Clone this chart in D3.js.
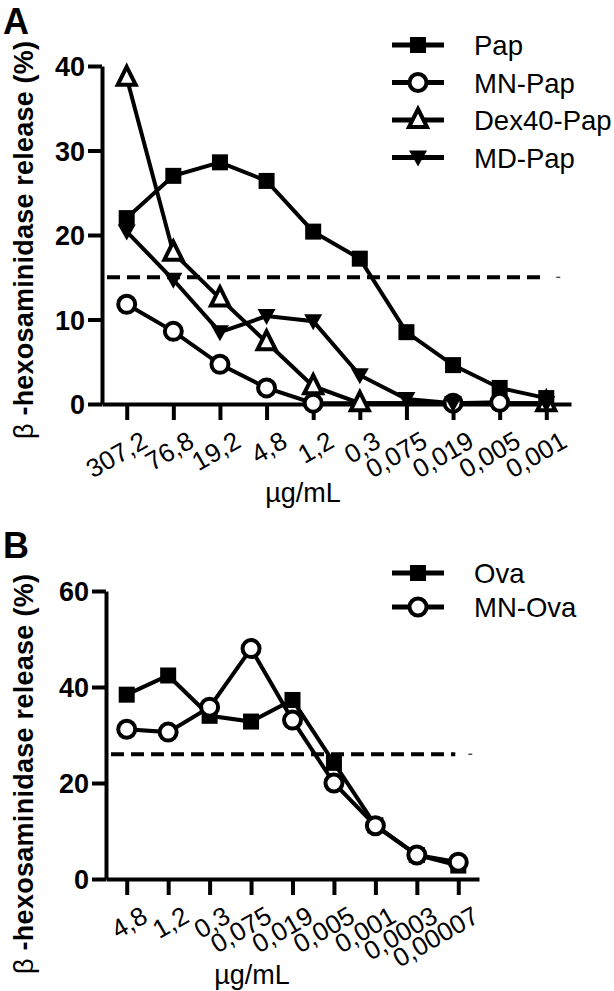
<!DOCTYPE html>
<html>
<head>
<meta charset="utf-8">
<script src="https://cdn.jsdelivr.net/npm/d3@7"></script>
<style>
  body { margin: 0; background: #fff; }
  svg { font-family: Arial, "Liberation Sans", sans-serif; }
</style>
</head>
<body>
<svg width="614" height="991"></svg>
<script>
const svg = d3.select('svg');

// panel A data (null = point not shown)
const concA = ['307,2', '76,8', '19,2', '4,8', '1,2', '0,3', '0,075', '0,019', '0,005', '0,001'];
const pap = [22.0, 27.0, 28.6, 26.4, 20.4, 17.2, 8.5, 4.6, 1.9, 0.7];
const mnPap = [11.8, 8.6, 4.7, 1.9, 0.1, null, null, 0.1, 0.2, null];
const dex40Pap = [38.6, 17.9, 12.5, 7.3, 2.1, 0.1, null, null, null, 0.1];
const mdPap = [20.4, 14.7, 8.5, 10.4, 9.8, 3.4, 0.6, 0.1, null, 0.1];
const ticksA = [0, 10, 20, 30, 40];
const thresholdA = 15;

// panel B data
const concB = ['4,8', '1,2', '0,3', '0,075', '0,019', '0,005', '0,001', '0,0003', '0,00007'];
const ova = [38.4, 42.4, 34.0, 32.8, 37.3, 24.2, 11.2, 5.0, 2.8];
const mnOva = [31.2, 30.6, 35.8, 48.0, 33.1, 20.0, 11.1, 5.0, 3.5];
const ticksB = [0, 20, 40, 60];
const thresholdB = 26;

const LW = 4;
const FONT = 'Arial, "Liberation Sans", sans-serif';

function marker(g, type, cx, cy) {
    if (type === 'square') {
        g.append('rect').attr('x', cx - 8).attr('y', cy - 8).attr('width', 16).attr('height', 16)
            .attr('fill', '#000');
    } else if (type === 'circle') {
        g.append('circle').attr('cx', cx).attr('cy', cy).attr('r', 8.5)
            .attr('fill', '#fff').attr('stroke', '#000').attr('stroke-width', 4);
    } else if (type === 'up') {
        g.append('path').attr('d', `M${cx},${cy - 11}L${cx + 9},${cy + 7}L${cx - 9},${cy + 7}Z`)
            .attr('fill', '#fff').attr('stroke', '#000').attr('stroke-width', 4);
    } else if (type === 'down') {
        g.append('path').attr('d', `M${cx - 9},${cy - 7}L${cx + 9},${cy - 7}L${cx},${cy + 9}Z`)
            .attr('fill', '#000');
    }
}

function panel(opt) {
    const g = svg.append('g');
    const x = d3.scalePoint().domain(opt.cats).range(opt.xRange).padding(opt.pad);
    const y = d3.scaleLinear().domain([0, opt.ymax]).range(opt.yRange);
    const lastX = x(opt.cats[opt.cats.length - 1]);

    // threshold dashed line
    g.append('line')
        .attr('x1', opt.xRange[0] + 5).attr('x2', lastX - 3)
        .attr('y1', y(opt.threshold)).attr('y2', y(opt.threshold))
        .attr('stroke', '#000').attr('stroke-width', 4).attr('stroke-dasharray', '13,7');
    g.append('line')
        .attr('x1', lastX + 10).attr('x2', lastX + 14)
        .attr('y1', y(opt.threshold)).attr('y2', y(opt.threshold))
        .attr('stroke', '#000').attr('stroke-width', 1);

    // axes
    const yAxis = g.append('g')
        .attr('transform', `translate(${opt.xRange[0]},0)`)
        .call(d3.axisLeft(y).tickValues(opt.yticks).tickSize(14).tickSizeOuter(0).tickPadding(3));
    yAxis.selectAll('path, line').attr('stroke', '#000').attr('stroke-width', 4);
    yAxis.selectAll('text').attr('font-size', 27).attr('font-weight', 'bold').attr('fill', '#000')
        .attr('font-family', FONT).attr('dy', '0.36em');

    const xAxis = g.append('g')
        .attr('transform', `translate(0,${opt.yRange[0]})`)
        .call(d3.axisBottom(x).tickSize(16).tickSizeOuter(0));
    xAxis.selectAll('path, line').attr('stroke', '#000').attr('stroke-width', 4);
    xAxis.selectAll('text')
        .attr('font-size', 26).attr('fill', '#000')
        .attr('font-family', FONT)
        .attr('text-anchor', 'end')
        .attr('dy', 0)
        .attr('transform', 'translate(15,30) rotate(-30)')
        .attr('y', 14).attr('x', 0);

    // x title
    g.append('text').attr('x', opt.xTitleX).attr('y', opt.xTitleY)
        .attr('text-anchor', 'middle').attr('font-size', 27).text('µg/mL');

    // y title
    const yt = g.append('text')
        .attr('transform', `translate(${opt.yTitleX},${opt.yTitleC}) rotate(-90)`)
        .attr('text-anchor', 'middle').attr('font-size', 27)
        .attr('textLength', opt.yTitleLen).attr('lengthAdjust', 'spacing');
    yt.append('tspan').text('β ');
    yt.append('tspan').attr('font-weight', 'bold').text('-hexosaminidase release (%)');

    // panel letter
    g.append('text').attr('x', 3).attr('y', opt.letterY)
        .attr('font-size', 36).attr('font-weight', 'bold').text(opt.letter);

    // series
    const line = d3.line()
        .defined(d => d.v !== null)
        .x(d => x(d.c)).y(d => y(d.v));
    opt.series.forEach(s => {
        const pts = s.values.map((v, i) => ({ c: opt.cats[i], v: v })).filter(d => d.v !== null);
        g.append('path').attr('d', line(pts))
            .attr('fill', 'none').attr('stroke', '#000').attr('stroke-width', LW);
    });
    opt.series.forEach(s => {
        const mg = g.append('g');
        s.values.forEach((v, i) => {
            if (v !== null) marker(mg, s.shape, x(opt.cats[i]), y(v));
        });
    });

    // legend
    opt.series.forEach((s, i) => {
        const ly = opt.legendY + i * opt.legendStep;
        const lg = g.append('g');
        lg.append('line').attr('x1', 392).attr('x2', 444).attr('y1', ly).attr('y2', ly)
            .attr('stroke', '#000').attr('stroke-width', 5);
        marker(lg, s.shape, 418, ly);
        lg.append('text').attr('x', 474).attr('y', ly + 10).attr('font-size', 27.5).text(s.name);
    });
}

panel({
    letter: 'A', letterY: 34,
    cats: concA, xRange: [102, 571], pad: 0.53,
    ymax: 40, yRange: [404, 66], yticks: ticksA, threshold: thresholdA,
    xTitleX: 303, xTitleY: 502,
    yTitleX: 33, yTitleC: 240, yTitleLen: 398,
    legendY: 45, legendStep: 37.5,
    series: [
        { name: 'Pap', shape: 'square', values: pap },
        { name: 'MN-Pap', shape: 'circle', values: mnPap },
        { name: 'Dex40-Pap', shape: 'up', values: dex40Pap },
        { name: 'MD-Pap', shape: 'down', values: mdPap }
    ]
});

panel({
    letter: 'B', letterY: 558,
    cats: concB, xRange: [106, 479], pad: 0.5,
    ymax: 60, yRange: [879, 591], yticks: ticksB, threshold: thresholdB,
    xTitleX: 252, xTitleY: 984,
    yTitleX: 33, yTitleC: 774, yTitleLen: 400,
    legendY: 573, legendStep: 34,
    series: [
        { name: 'Ova', shape: 'square', values: ova },
        { name: 'MN-Ova', shape: 'circle', values: mnOva }
    ]
});
</script>
</body>
</html>
